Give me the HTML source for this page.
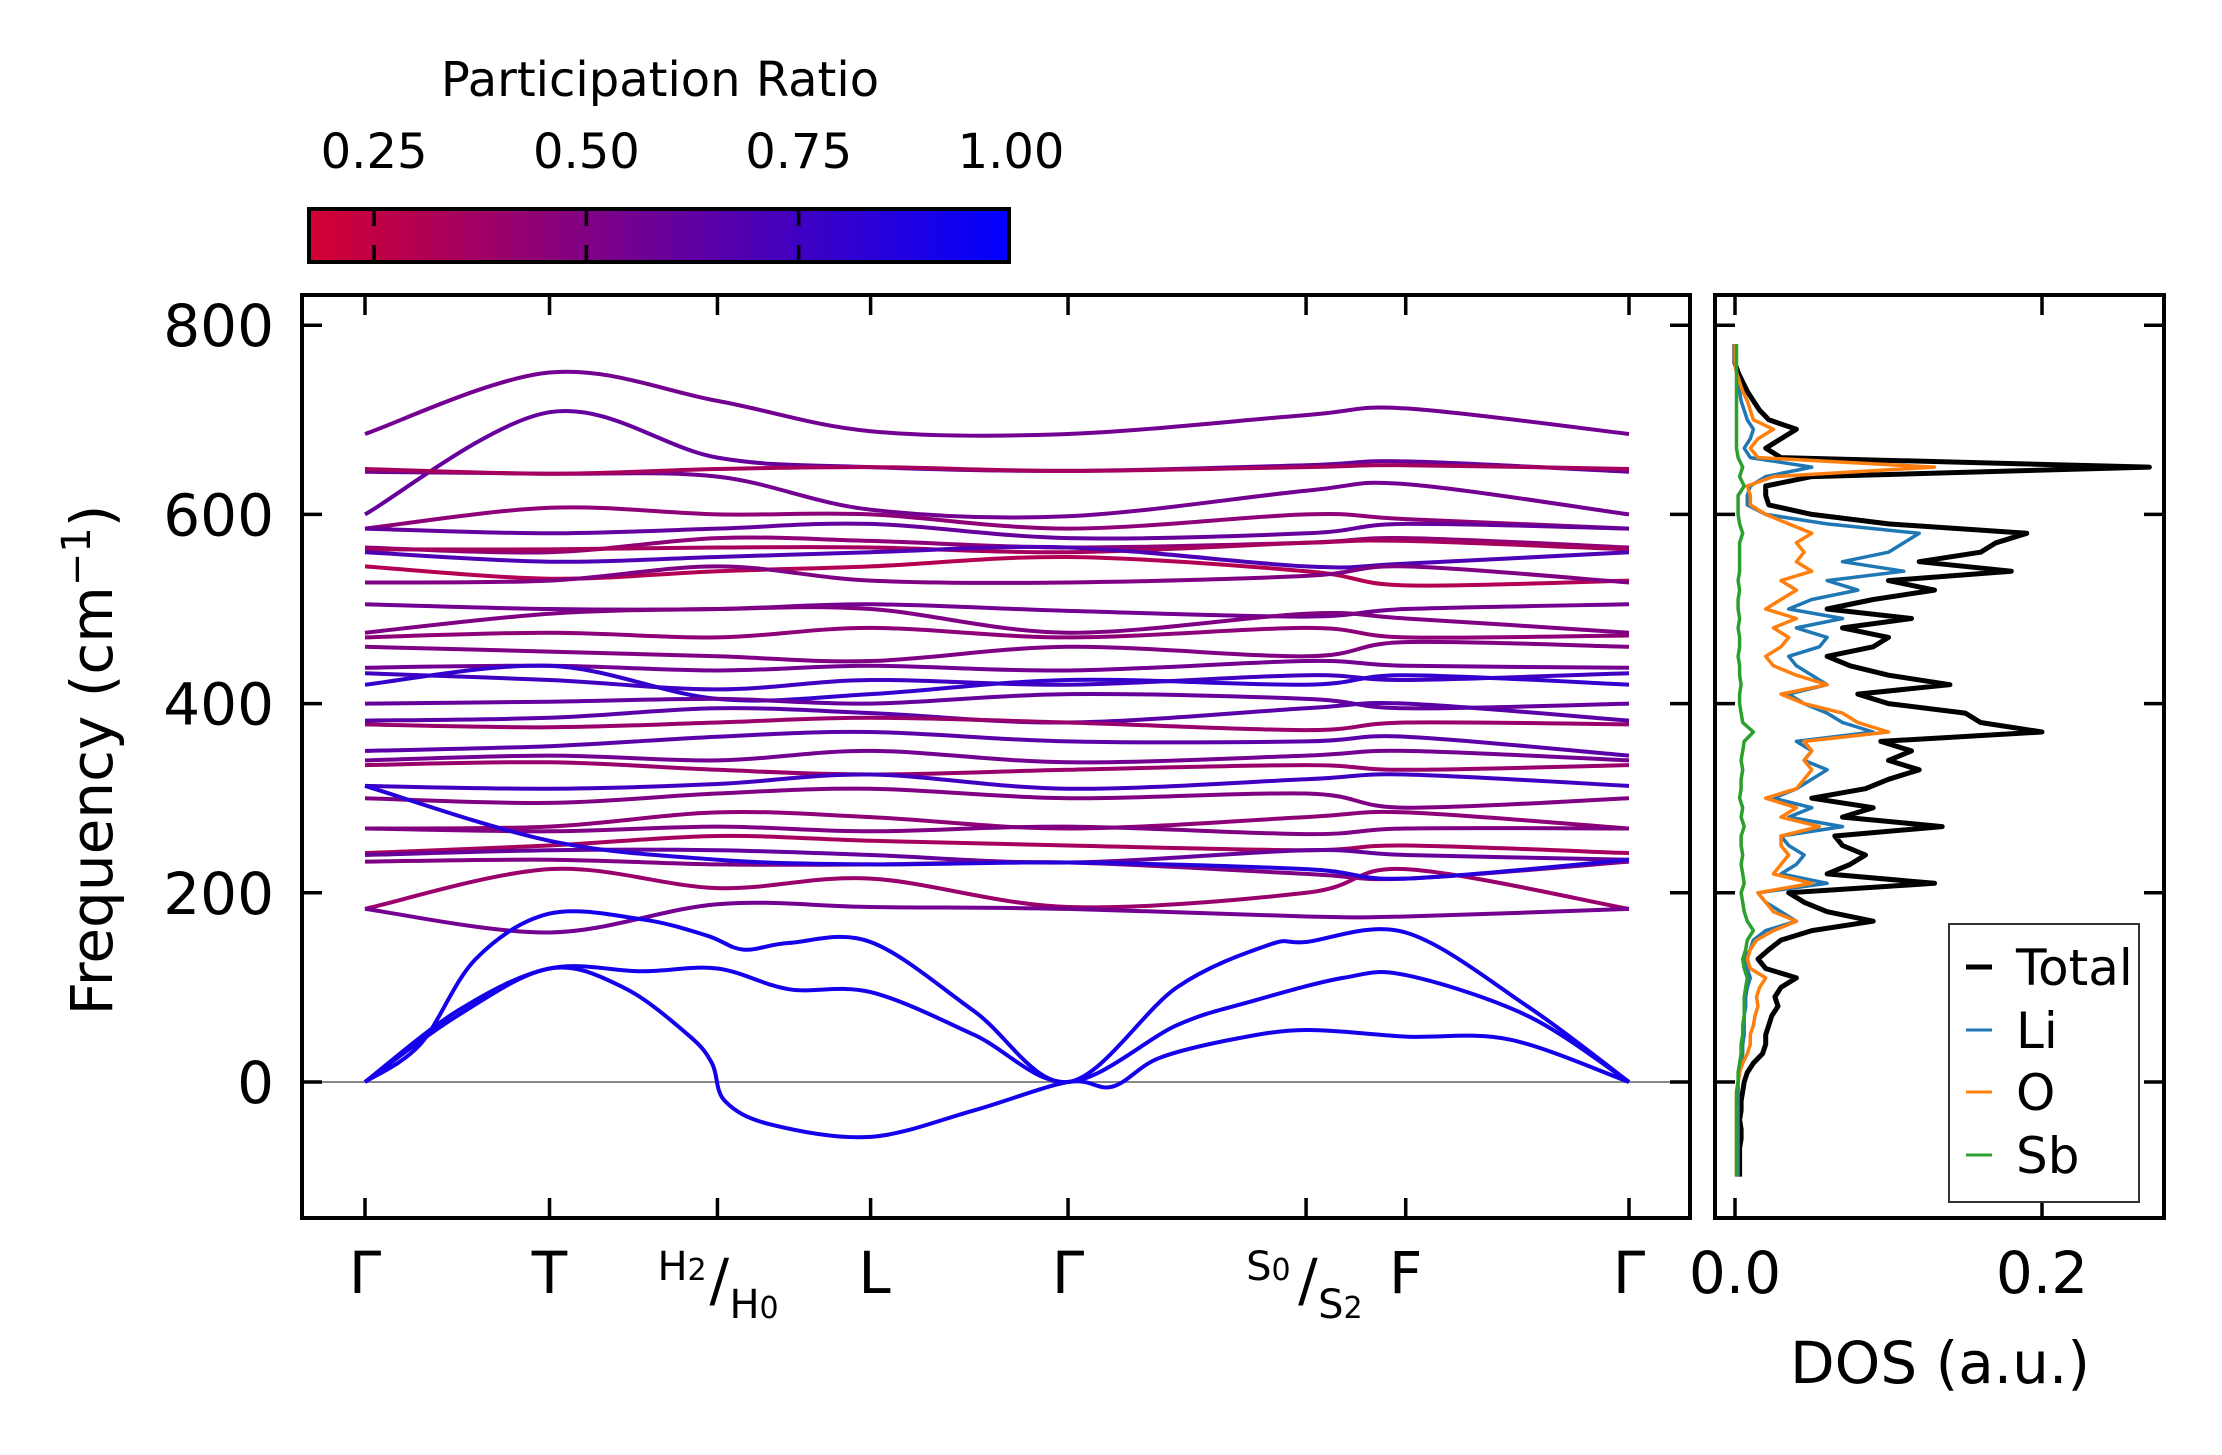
<!DOCTYPE html>
<html><head><meta charset="utf-8"><style>
html,body{margin:0;padding:0;background:#fff}
svg{display:block;font-family:"DejaVu Sans","Liberation Sans",sans-serif}
</style></head><body>
<svg id="chart" width="2222" height="1455" viewBox="0 0 2222 1455" xmlns="http://www.w3.org/2000/svg">
<defs>
<linearGradient id="cbgrad" x1="0" x2="1" y1="0" y2="0">
<stop offset="0" stop-color="rgb(212,0,50)"/>
<stop offset="1" stop-color="rgb(0,0,255)"/>
</linearGradient>
<clipPath id="mainclip"><rect x="302" y="295" width="1388" height="923"/></clipPath>
<clipPath id="dosclip"><rect x="1715" y="295" width="449" height="923"/></clipPath>
</defs>
<g id="colorbar">
<text x="660" y="96" font-size="48" text-anchor="middle">Participation Ratio</text>
<rect x="309" y="209" width="700" height="53" fill="url(#cbgrad)" stroke="#000" stroke-width="4"/>
</g>
<g id="bands" clip-path="url(#mainclip)"></g>
<g id="dos" clip-path="url(#dosclip)"></g>
<g id="axes"></g>
<text transform="translate(112,760) rotate(-90)" font-size="58" text-anchor="middle">Frequency (cm<tspan dy="-22" font-size="40">−1</tspan><tspan dy="22">)</tspan></text>
<text x="1940" y="1383" font-size="58" text-anchor="middle">DOS (a.u.)</text>
<g>
<rect x="1949" y="924" width="190" height="278" fill="#fff" stroke="#333" stroke-width="2"/>
<line x1="1966" y1="967" x2="1992" y2="967" stroke="#000" stroke-width="5"/>
<text x="2016" y="985" font-size="50">Total</text>
<line x1="1966" y1="1030" x2="1992" y2="1030" stroke="#1f77b4" stroke-width="3"/>
<text x="2016" y="1048" font-size="50">Li</text>
<line x1="1966" y1="1092" x2="1992" y2="1092" stroke="#ff7f0e" stroke-width="3"/>
<text x="2016" y="1110" font-size="50">O</text>
<line x1="1966" y1="1155" x2="1992" y2="1155" stroke="#2ca02c" stroke-width="3"/>
<text x="2016" y="1173" font-size="50">Sb</text>
</g>
</svg>
<script>
// ---- data ----
const kLabels = ["Γ","T","H","L","Γ","S","F","Γ"];
const kPos = [0, 1, 1.91, 2.74, 3.81, 5.1, 5.64, 6.85];
const yTicks = [0, 200, 400, 600, 800];
const cbTicks = [0.25, 0.50, 0.75, 1.00];
const cbTickLabels = ["0.25","0.50","0.75","1.00"];
const dosTicks = [0.0, 0.2];
const dosTickLabels = ["0.0","0.2"];
const opticalBands = [
 [685,750,720,688,685,705,712,685],
 [600,708,660,650,646,652,656,645],
 [645,643,640,605,598,625,632,600],
 [648,643,648,650,646,650,652,648],
 [585,607,600,600,585,600,595,585],
 [585,580,585,590,575,580,590,585],
 [565,560,575,572,565,570,575,565],
 [563,563,565,565,560,570,572,563],
 [560,550,555,560,565,545,548,560],
 [545,532,540,545,555,540,525,530],
 [528,530,545,530,528,535,545,528],
 [505,500,500,505,498,492,500,505],
 [475,495,500,500,475,495,490,475],
 [470,475,470,480,470,480,470,472],
 [460,455,450,445,460,450,465,460],
 [438,440,435,440,435,445,440,438],
 [432,425,415,425,420,430,425,432],
 [420,440,405,410,425,420,430,420],
 [400,402,405,400,410,405,395,400],
 [382,385,395,390,380,395,400,382],
 [378,375,380,385,380,372,380,378],
 [350,355,365,370,360,360,365,345],
 [340,345,340,350,338,345,350,340],
 [335,338,330,325,330,335,330,335],
 [313,310,315,325,310,320,325,313],
 [300,295,305,310,300,305,290,300],
 [268,270,285,280,268,280,285,268],
 [268,265,270,265,270,262,268,268],
 [242,250,260,255,250,245,250,242],
 [240,245,245,240,232,245,240,235],
 [233,235,230,230,232,220,215,233],
 [183,225,205,215,185,200,225,183],
 [183,158,188,185,183,175,175,183],
 [313,255,235,230,232,225,215,235]
];
const opticalPR = [.55,.6,.55,.35,.45,.6,.45,.35,.7,.3,.5,.55,.5,.45,.5,.55,.75,.8,.6,.65,.4,.65,.55,.4,.75,.5,.45,.5,.35,.6,.5,.4,.55,.85];
const acoustic1Q = [0,0.5,1,1.4,1.75,1.88,1.95,2.2,2.74,3.3,3.81,4.05,4.3,4.7,5.1,5.64,6.2,6.85];
const acoustic1F = [0,70,120,100,50,20,-20,-45,-58,-30,0,-5,25,45,55,48,45,0];
const acoustic2Q = [0,0.5,1,1.5,1.91,2.3,2.74,3.3,3.81,4.4,4.8,5.3,5.64,6.3,6.85];
const acoustic2F = [0,75,120,117,120,98,95,50,0,60,85,110,113,70,0];
const acoustic3Q = [0,0.3,0.6,1,1.5,1.85,2.05,2.3,2.74,3.3,3.81,4.4,4.9,5.1,5.64,6.3,6.85];
const acoustic3F = [0,40,130,178,172,155,140,147,148,75,0,100,145,148,158,80,0];
const dosTotal = [.003,.003,.003,.003,.004,.004,.003,.004,.004,.005,
 .006,.008,.012,.018,.02,.02,.022,.024,.028,.026,
 .03,.04,.02,.015,.022,.03,.05,.09,.06,.045,
 .035,.13,.06,.075,.085,.07,.065,.135,.07,.09,
 .05,.085,.1,.12,.1,.115,.095,.2,.16,.15,
 .1,.08,.14,.1,.075,.06,.09,.1,.07,.115,
 .06,.09,.13,.1,.18,.12,.16,.17,.19,.1,
 .05,.022,.02,.02,.05,.27,.03,.02,.03,.04,
 .022,.016,.012,.008,.005,.002,0,0,0];
const dosLi = [.002,.002,.002,.002,.002,.002,.002,.002,.002,.002,
 .002,.003,.004,.005,.005,.006,.006,.006,.007,.007,
 .008,.01,.008,.006,.01,.012,.02,.04,.03,.02,
 .015,.06,.03,.04,.045,.035,.03,.07,.035,.05,
 .025,.04,.05,.06,.045,.05,.04,.09,.07,.06,
 .045,.035,.06,.05,.04,.035,.055,.06,.04,.07,
 .035,.05,.08,.06,.11,.07,.1,.11,.12,.06,
 .02,.008,.008,.01,.02,.05,.01,.006,.01,.012,
 .008,.006,.004,.003,.002,.001,0,0,0];
const dosO = [.001,.001,.001,.001,.001,.001,.001,.001,.001,.001,
 .002,.003,.005,.008,.01,.01,.012,.013,.015,.014,
 .016,.02,.01,.008,.01,.014,.025,.04,.025,.02,
 .015,.05,.025,.03,.035,.03,.03,.055,.03,.04,
 .02,.04,.045,.05,.045,.05,.045,.1,.08,.07,
 .045,.03,.06,.04,.025,.02,.03,.035,.025,.04,
 .02,.03,.04,.03,.05,.04,.045,.04,.05,.035,
 .02,.01,.01,.008,.025,.13,.015,.01,.015,.025,
 .012,.01,.008,.005,.003,.001,0,0,0];
const dosSb = [.001,.001,.001,.001,.001,.001,.001,.001,.001,.001,
 .002,.002,.003,.004,.004,.005,.005,.006,.006,.006,
 .007,.008,.006,.005,.007,.008,.012,.008,.006,.005,
 .004,.006,.005,.004,.005,.004,.004,.006,.004,.005,
 .003,.004,.004,.005,.004,.005,.006,.012,.005,.004,
 .003,.003,.004,.003,.003,.002,.003,.003,.002,.003,
 .002,.002,.003,.002,.003,.003,.003,.003,.005,.003,
 .002,.002,.002,.006,.003,.005,.002,.001,.001,.001,
 .001,.001,.001,.001,.001,.001,.001,.001,.001];
const dosFreqStart = -100, dosFreqStep = 10;

// ---- scales ----
const NS = "http://www.w3.org/2000/svg";
const X0 = 365, X1 = 1629, QMAX = 6.85;
const xq = q => X0 + q * (X1 - X0) / QMAX;
const yf = f => 1082 - f * 0.946;
const xd = v => 1735 + v * 1535;
const cbx = v => 307 + (v - 0.171) * (1011 - 307) / (1 - 0.171);
function prColor(p){ const t = Math.max(0, Math.min(1, (p - 0.171) / (1 - 0.171)));
  return `rgb(${Math.round(212*(1-t))},0,${Math.round(50+205*t)})`; }
function mk(tag, attrs, parent){ const e = document.createElementNS(NS, tag);
  for (const k in attrs) e.setAttribute(k, attrs[k]); parent.appendChild(e); return e; }
function smoothPath(pts){
  let d = `M${pts[0][0].toFixed(1)},${pts[0][1].toFixed(1)}`;
  for (let i = 0; i < pts.length - 1; i++){
    const p0 = pts[Math.max(0,i-1)], p1 = pts[i], p2 = pts[i+1], p3 = pts[Math.min(pts.length-1,i+2)];
    const c1x = p1[0] + (p2[0]-p0[0])/6, c1y = p1[1] + (p2[1]-p0[1])/6;
    const c2x = p2[0] - (p3[0]-p1[0])/6, c2y = p2[1] - (p3[1]-p1[1])/6;
    d += ` C${c1x.toFixed(1)},${c1y.toFixed(1)} ${c2x.toFixed(1)},${c2y.toFixed(1)} ${p2[0].toFixed(1)},${p2[1].toFixed(1)}`;
  }
  return d;
}
const bandsG = document.getElementById('bands');
const dosG = document.getElementById('dos');
const axesG = document.getElementById('axes');

const zl = mk('line', {x1:302, x2:1690, y1:yf(0), y2:yf(0), stroke:'#888', 'stroke-width':2}, bandsG);



opticalBands.forEach((b, i) => {
  const pts = b.map((f, j) => [xq(kPos[j]), yf(f)]);
  const p = mk('path', {d: smoothPath(pts), fill:'none', stroke: prColor(opticalPR[i]), 'stroke-width':4}, bandsG);
  
  
});
[[acoustic1Q, acoustic1F], [acoustic2Q, acoustic2F], [acoustic3Q, acoustic3F]].forEach((a, i) => {
  const pts = a[0].map((q, j) => [xq(q), yf(a[1][j])]);
  const p = mk('path', {d: smoothPath(pts), fill:'none', stroke: prColor(0.92), 'stroke-width':4}, bandsG);
  
  
});

[[dosTotal,'#000',5,'dos-total'],[dosLi,'#1f77b4',3.5,'dos-li'],[dosO,'#ff7f0e',3.5,'dos-o'],[dosSb,'#2ca02c',3.5,'dos-sb']].forEach(s => {
  const pts = s[0].map((v, j) => `${xd(v).toFixed(1)},${yf(dosFreqStart + j*dosFreqStep).toFixed(1)}`).join(' ');
  const pl = mk('polyline', {points: pts, fill:'none', stroke:s[1], 'stroke-width':s[2], 'stroke-linejoin':'round'}, dosG);
  
  
});

const f1 = mk('rect', {x:302, y:295, width:1388, height:923, fill:'none', stroke:'#000', 'stroke-width':4}, axesG);


const f2 = mk('rect', {x:1715, y:295, width:449, height:923, fill:'none', stroke:'#000', 'stroke-width':4}, axesG);



yTicks.forEach(t => {
  const y = yf(t);
  [[302,322],[1670,1690],[1715,1735],[2144,2164]].forEach(s => {
    const l = mk('line', {x1:s[0], x2:s[1], y1:y, y2:y, stroke:'#000', 'stroke-width':3.5}, axesG);
    
    
  });
  const tx = mk('text', {x:274, y:y+21, 'font-size':58, 'text-anchor':'end'}, axesG);
  tx.textContent = String(t);
  
  
});
kPos.forEach((q, i) => {
  const x = xq(q);
  [[295,315],[1198,1218]].forEach(s => {
    const l = mk('line', {x1:x, x2:x, y1:s[0], y2:s[1], stroke:'#000', 'stroke-width':3.5}, axesG);
    
    
  });
});
function kText(x, content, name){
  const t = mk('text', {x:x, y:1293, 'font-size':58, 'text-anchor':'middle'}, axesG);
  t.textContent = content;
  
  
}
[0,1,3,4,6,7].forEach(i => kText(xq(kPos[i]) + (kLabels[i]==='L'?4:0), kLabels[i], 'k-label-' + kLabels[i]));
function combo(xc, a, as, b, bs, name){
  const g = mk('g', {}, axesG);
  
  
  const t1 = mk('text', {x:xc-60, y:1280, 'font-size':40}, g);
  t1.innerHTML = a + '<tspan font-size="30">' + as + '</tspan>';
  const t2 = mk('text', {x:xc-8, y:1300, 'font-size':58}, g); t2.textContent = '/';
  const t3 = mk('text', {x:xc+12, y:1318, 'font-size':40}, g);
  t3.innerHTML = b + '<tspan font-size="30">' + bs + '</tspan>';
}
combo(xq(kPos[2]), 'H', '2', 'H', '0', 'k-label-H2-H0');
combo(xq(kPos[5]), 'S', '0', 'S', '2', 'k-label-S0-S2');
dosTicks.forEach((v, i) => {
  const x = xd(v);
  [[295,315],[1198,1218]].forEach(s => {
    const l = mk('line', {x1:x, x2:x, y1:s[0], y2:s[1], stroke:'#000', 'stroke-width':3.5}, axesG);
    
    
  });
  const t = mk('text', {x:x, y:1293, 'font-size':58, 'text-anchor':'middle'}, axesG);
  t.textContent = dosTickLabels[i];
  
  
});
const cbG = document.getElementById('colorbar');
cbTicks.forEach((v, i) => {
  const x = cbx(v);
  if (v < 0.999){
    [[209,226],[245,262]].forEach(s => {
      const l = mk('line', {x1:x, x2:x, y1:s[0], y2:s[1], stroke:'#000', 'stroke-width':3.5}, cbG);
      
      
    });
  }
  const t = mk('text', {x:x, y:168, 'font-size':48, 'text-anchor':'middle'}, cbG);
  t.textContent = cbTickLabels[i];
  
  
});
</script>
</body></html>
